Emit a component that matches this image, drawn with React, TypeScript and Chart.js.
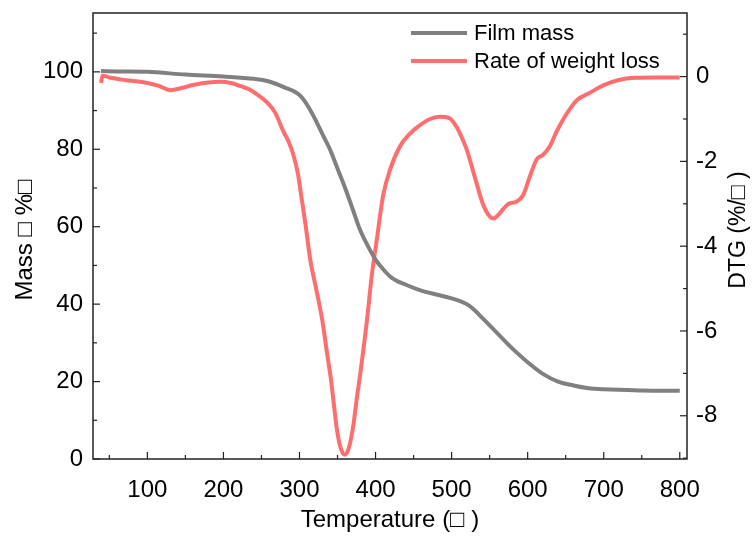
import React, { useEffect, useRef } from "react";
import { Chart, registerables } from "chart.js";

Chart.register(...registerables);

// ---- data ----
const massTemps = [39, 60, 100, 150, 200, 240, 260, 280, 300, 310, 320, 330, 340, 350, 360, 370, 380, 390, 400, 410, 420, 440, 460, 480, 500, 520, 530, 540, 560, 580, 600, 620, 640, 660, 680, 700, 750, 800];
const massValues = [100.2, 100.1, 100, 99.3, 98.8, 98.2, 97.5, 96, 94, 91.5, 88, 84, 80, 75, 70, 64.5, 59, 55, 51.5, 49, 47, 45, 43.5, 42.5, 41.5, 40, 38.5, 36.5, 32.5, 28.5, 25, 22, 20, 19, 18.3, 18, 17.7, 17.6];

const dtgTemps = [39, 41, 50, 70, 100, 115, 130, 145, 160, 180, 195, 210, 222, 235, 245, 258, 268, 279, 286, 292, 298, 303, 308, 314, 323, 330, 336, 341, 345, 349, 354, 360, 365, 371, 376, 380, 385, 389, 395, 402, 410, 419, 432, 445, 458, 472, 485, 497, 507, 515, 520, 531, 541, 548, 555, 562, 568, 575, 585, 594, 603, 612, 620, 629, 638, 647, 656, 665, 680, 700, 720, 740, 770, 800];
const dtgValues = [-0.15, 0.02, -0.02, -0.08, -0.15, -0.22, -0.32, -0.27, -0.2, -0.14, -0.12, -0.15, -0.22, -0.31, -0.43, -0.62, -0.85, -1.3, -1.55, -1.85, -2.3, -2.9, -3.5, -4.3, -5.1, -5.75, -6.5, -7.1, -7.7, -8.3, -8.75, -8.92, -8.75, -8.2, -7.5, -7.0, -6.3, -5.7, -4.7, -3.8, -2.8, -2.2, -1.65, -1.35, -1.15, -1.0, -0.95, -0.98, -1.2, -1.5, -1.73, -2.4, -3.0, -3.25, -3.35, -3.25, -3.12, -3.0, -2.95, -2.8, -2.35, -1.95, -1.85, -1.65, -1.3, -1.0, -0.75, -0.55, -0.4, -0.2, -0.08, -0.03, -0.02, -0.02];

const seriesNames = ["Film mass", "Rate of weight loss"];
const xTitle = "Temperature (□ )";
const yTitle = "Mass □ %□";
const y1Title = "DTG (%/□ )";

const GRAY = "rgb(128,128,128)";
const RED = "rgb(255,110,110)";
const FONT = "'Liberation Sans', Arial, sans-serif";

const decorPlugin = {
  id: "decor",
  afterDraw(chart: any) {
    const ctx = chart.ctx;
    const { left, right, top, bottom } = chart.chartArea;
    ctx.save();
    // frame
    ctx.strokeStyle = "#222";
    ctx.lineWidth = 1.5;
    ctx.strokeRect(left, top, right - left, bottom - top);
    // ticks
    ctx.lineWidth = 1.2;
    const drawTicks = (scale: any, side: string) => {
      const vals = scale.ticks.map((t: any) => t.value);
      const step = vals.length > 1 ? vals[1] - vals[0] : 1;
      const minors: number[] = [];
      const first = vals[0] - step / 2;
      for (let v = first; v <= scale.max; v += step / 2) {
        if (v >= scale.min) minors.push(v);
      }
      const mk = (v: number, len: number) => {
        const p = scale.getPixelForValue(v);
        ctx.beginPath();
        if (side === "bottom") { ctx.moveTo(p, bottom); ctx.lineTo(p, bottom - len); }
        else if (side === "left") { ctx.moveTo(left, p); ctx.lineTo(left + len, p); }
        else { ctx.moveTo(right, p); ctx.lineTo(right - len, p); }
        ctx.stroke();
      };
      minors.forEach((v) => {
        const isMajor = vals.some((m: number) => Math.abs(m - v) < 1e-6);
        mk(v, isMajor ? 7 : 4);
      });
    };
    drawTicks(chart.scales.x, "bottom");
    drawTicks(chart.scales.y, "left");
    drawTicks(chart.scales.y1, "right");

    // titles
    ctx.fillStyle = "#000";
    ctx.font = `24px ${FONT}`;
    ctx.textAlign = "center";
    ctx.textBaseline = "middle";
    ctx.fillText(xTitle, (left + right) / 2, bottom + 61);
    ctx.save();
    ctx.translate(left - 68, (top + bottom) / 2 + 4);
    ctx.rotate(-Math.PI / 2);
    ctx.fillText(yTitle, 0, 0);
    ctx.restore();
    ctx.save();
    ctx.font = `23px ${FONT}`;
    ctx.translate(right + 52, (top + bottom) / 2 - 6);
    ctx.rotate(-Math.PI / 2);
    ctx.fillText(y1Title, 0, 0);
    ctx.restore();

    // legend
    const lx = left + 318;
    const items = [GRAY, RED];
    ctx.font = `22px ${FONT}`;
    ctx.textAlign = "left";
    items.forEach((c, i) => {
      const ly = top + 20 + i * 28;
      ctx.strokeStyle = c;
      ctx.lineWidth = 4;
      ctx.beginPath();
      ctx.moveTo(lx, ly);
      ctx.lineTo(lx + 56, ly);
      ctx.stroke();
      ctx.fillStyle = "#000";
      ctx.fillText(seriesNames[i], lx + 63, ly + 1);
    });
    ctx.restore();
  },
};

const noPadV = (w: number) => (s: any) => {
  s.width = w;
  s.paddingTop = 0;
  s.paddingBottom = 0;
};

export default function App() {
  const ref = useRef<HTMLCanvasElement>(null);
  useEffect(() => {
    if (!ref.current) return;
    const tickFont = { family: FONT, size: 24 };
    const chart = new Chart(ref.current, {
      type: "line",
      data: {
        datasets: [
          {
            label: seriesNames[0],
            data: massTemps.map((t, i) => ({ x: t, y: massValues[i] })),
            borderColor: GRAY,
            borderWidth: 4,
            pointRadius: 0,
            cubicInterpolationMode: "monotone",
            yAxisID: "y",
          },
          {
            label: seriesNames[1],
            data: dtgTemps.map((t, i) => ({ x: t, y: dtgValues[i] })),
            borderColor: RED,
            borderWidth: 4,
            pointRadius: 0,
            cubicInterpolationMode: "monotone",
            yAxisID: "y1",
          },
        ],
      },
      options: {
        animation: false,
        responsive: false,
        layout: { padding: { top: 13, left: 0, right: 0, bottom: 0 } },
        plugins: { legend: { display: false }, tooltip: { enabled: false } },
        scales: {
          x: {
            type: "linear",
            min: 28.5,
            max: 809.5,
            ticks: { stepSize: 100, includeBounds: false, font: tickFont, color: "#000", padding: 17 },
            grid: { display: false, drawTicks: false },
            border: { display: false },
            afterFit: (s: any) => { s.height = 77; s.paddingLeft = 0; s.paddingRight = 0; },
          },
          y: {
            type: "linear",
            position: "left",
            min: 0,
            max: 115.2,
            ticks: { stepSize: 20, includeBounds: false, font: tickFont, color: "#000", padding: 10 },
            grid: { display: false, drawTicks: false },
            border: { display: false },
            afterFit: noPadV(93),
          },
          y1: {
            type: "linear",
            position: "right",
            min: -9.02,
            max: 1.5,
            ticks: { stepSize: 2, includeBounds: false, font: tickFont, color: "#000", padding: 9 },
            grid: { display: false, drawTicks: false },
            border: { display: false },
            afterFit: noPadV(67),
          },
        },
      },
      plugins: [decorPlugin],
    } as any);
    return () => chart.destroy();
  }, []);
  return (
    <canvas
      ref={ref}
      width={754}
      height={536}
      style={{ position: "fixed", left: 0, top: 0, display: "block", background: "#fff" }}
    />
  );
}
